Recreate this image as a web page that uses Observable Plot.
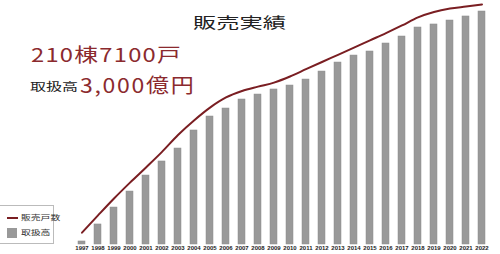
<!DOCTYPE html>
<html><head><meta charset="utf-8">
<script src="https://cdn.jsdelivr.net/npm/d3@7"></script>
<script src="https://cdn.jsdelivr.net/npm/@observablehq/plot@0.6"></script>
<style>
html,body{margin:0;padding:0;background:#fff;}
#wrap{position:relative;width:500px;height:254px;overflow:hidden;font-family:"Noto Sans CJK JP","Noto Sans",sans-serif;}
.ov{position:absolute;white-space:nowrap;line-height:1;transform-origin:0 50%;}
#legend{position:absolute;left:-1px;top:205px;width:55px;height:39px;border:1px solid #bbb;background:#fff;box-sizing:border-box;}
</style></head>
<body><div id="wrap"></div>
<script>
const years = ["1997","1998","1999","2000","2001","2002","2003","2004","2005","2006","2007","2008","2009","2010","2011","2012","2013","2014","2015","2016","2017","2018","2019","2020","2021","2022"];
const amounts = [39,258,476,682,888,1069,1236,1468,1648,1751,1867,1931,1996,2047,2124,2227,2343,2433,2485,2588,2678,2794,2833,2884,2936,3000];
const units = [350,860,1360,1830,2280,2740,3240,3670,4050,4350,4540,4670,4790,4970,5186,5400,5612,5825,6040,6254,6480,6720,6880,6980,7040,7100];
const title = "販売実績";
const seriesNames = ["販売戸数","取扱高"];

const data = years.map((y,i)=>({year:y, amount:amounts[i], units:units[i]}));
const k = (3000/233)*(240/7100); // secondary axis ratio

const plot = Plot.plot({
  width:500, height:254,
  marginLeft:62, marginRight:0, marginTop:11, marginBottom:10,
  style:{fontFamily:"'Liberation Sans',Arial,sans-serif", background:"transparent", color:"#222"},
  x:{type:"band", domain:years, paddingInner:0.59, paddingOuter:0.18, label:null},
  y:{domain:[0,3000], axis:null},
  marks:[
    Plot.barY(data,{x:"year", y:"amount", fill:"#999", stroke:"#8d8d8d", strokeWidth:0.5}),
    Plot.line(data,{x:"year", y:d=>d.units*k, stroke:"#7a1e22", strokeWidth:2, curve:"monotone-x"}),
    Plot.axisX({tickSize:0, tickPadding:1.5, fontSize:6, fill:"#222", label:null, fontWeight:"bold"})
  ]
});
const wrap = document.getElementById("wrap");
wrap.appendChild(plot);
plot.style.position="absolute"; plot.style.left="0"; plot.style.top="0";

function ov(html, left, top, size, sx, color, extra){
  const d=document.createElement("div");
  d.className="ov"; d.innerHTML=html;
  d.style.left=left+"px"; d.style.top=top+"px"; d.style.fontSize=size+"px";
  d.style.transform=`scaleX(${sx})`; d.style.color=color;
  if(extra) Object.assign(d.style, extra);
  wrap.appendChild(d); return d;
}
ov(title, 193, 14, 15, 1.55, "#222");
ov("210棟7100戸", 31, 44, 19, 1.25, "#8b2a2e", {letterSpacing:"1px"});
ov("取扱高", 30, 81, 11, 1.45, "#222");
ov("3,000億円", 80, 75, 20, 1.15, "#8b2a2e", {letterSpacing:"1.5px"});

const lg=document.createElement("div"); lg.id="legend"; wrap.appendChild(lg);
const ln=document.createElement("div");
Object.assign(ln.style,{position:"absolute",left:"7px",top:"217px",width:"11px",height:"2px",background:"#7a1e22"});
wrap.appendChild(ln);
const sw=document.createElement("div");
Object.assign(sw.style,{position:"absolute",left:"7px",top:"228px",width:"10px",height:"10px",background:"#999"});
wrap.appendChild(sw);
ov(seriesNames[0], 21, 214, 7, 1.4, "#333");
ov(seriesNames[1], 21, 229, 7, 1.4, "#333");
</script></body></html>
